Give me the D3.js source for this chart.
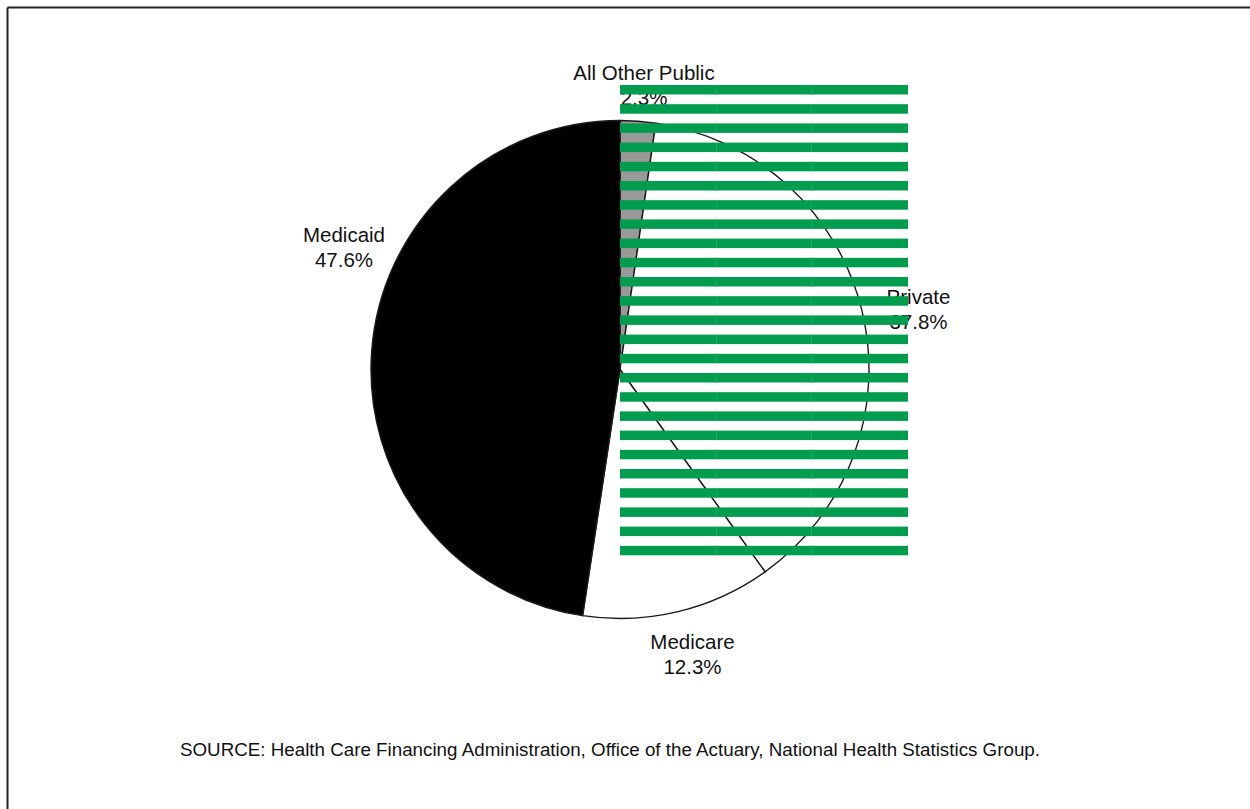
<!DOCTYPE html>
<html>
<head>
<meta charset="utf-8">
<script src="https://cdn.jsdelivr.net/npm/d3@7"></script>
<style>
  html, body { margin: 0; padding: 0; background: #ffffff; }
  svg { display: block; }
  text { font-family: "Liberation Sans", Arial, Helvetica, sans-serif; fill: #111; }
</style>
</head>
<body>
<svg id="chart" width="1250" height="809"></svg>
<script>
// Health spending shares by source of funds (percent)
const categories = ["All Other Public", "Private", "Medicare", "Medicaid"];
const shares = [2.3, 37.8, 12.3, 47.6];
const valueLabels = ["2.3%", "37.8%", "12.3%", "47.6%"];
const sourceNote = "SOURCE: Health Care Financing Administration, Office of the Actuary, National Health Statistics Group.";

// Layout
const W = 1250, H = 809;
const cx = 620, cy = 369.5, radius = 249;
const fills = { "All Other Public": "#999999", "Private": "#ffffff", "Medicare": "#ffffff", "Medicaid": "#000000" };
// label anchor offsets from the pie centre (first-line baseline)
const labelPos = {
  "All Other Public": [24, -289.5],
  "Private": [298.5, -65.5],
  "Medicare": [72.5, 279.5],
  "Medicaid": [-276, -127.5]
};
const lineGap = 24.7;

const svg = d3.select("#chart");

// frame (top and left rules)
svg.append("line").attr("x1", 7.5).attr("y1", 7.5).attr("x2", W).attr("y2", 7.5)
  .attr("stroke", "#222").attr("stroke-width", 2);
svg.append("line").attr("x1", 7.5).attr("y1", 7.5).attr("x2", 7.5).attr("y2", H)
  .attr("stroke", "#222").attr("stroke-width", 2);

const data = categories.map((c, i) => ({ name: c, value: shares[i], label: valueLabels[i] }));
const pie = d3.pie().sort(null).value(d => d.value).startAngle(0).endAngle(2 * Math.PI);
const arc = d3.arc().innerRadius(0).outerRadius(radius);
const arcs = pie(data);

const g = svg.append("g").attr("transform", `translate(${cx},${cy})`);
g.selectAll("path.slice")
  .data(arcs)
  .join("path")
  .attr("class", "slice")
  .attr("d", arc)
  .attr("fill", d => fills[d.data.name])
  .attr("stroke", "#1a1a1a")
  .attr("stroke-width", 1.4)
  .attr("stroke-linejoin", "round");

// category labels
const labels = g.selectAll("text.lbl")
  .data(arcs)
  .join("text")
  .attr("class", "lbl")
  .attr("text-anchor", "middle")
  .attr("font-size", 20.5)
  .attr("transform", d => `translate(${labelPos[d.data.name][0]},${labelPos[d.data.name][1]})`);
labels.append("tspan").attr("x", 0).attr("y", 0).text(d => d.data.name);
labels.append("tspan").attr("x", 0).attr("y", lineGap).text(d => d.data.label);

// striped fill block of the Private series, laid over the plot
const stripeX0 = cx, stripeX1 = 908, stripeY0 = 85, stripeStep = 19.2, stripeH = 9.5, stripeN = 25;
const stripes = svg.append("g").attr("class", "private-pattern");
stripes.selectAll("rect")
  .data(d3.range(stripeN))
  .join("rect")
  .attr("x", stripeX0)
  .attr("y", i => stripeY0 + i * stripeStep)
  .attr("width", stripeX1 - stripeX0)
  .attr("height", stripeH)
  .attr("fill", "#009d4f");
// faint tile seams in the pattern
[716, 811].forEach(sx => {
  stripes.selectAll(null)
    .data(d3.range(stripeN))
    .join("rect")
    .attr("x", sx)
    .attr("y", i => stripeY0 + i * stripeStep)
    .attr("width", 1)
    .attr("height", stripeH)
    .attr("fill", "#1fa560");
});

// source note
svg.append("text")
  .attr("x", 610)
  .attr("y", 756)
  .attr("text-anchor", "middle")
  .attr("font-size", 17.5)
  .attr("textLength", 860)
  .attr("lengthAdjust", "spacingAndGlyphs")
  .attr("fill", "#222")
  .text(sourceNote);
</script>
</body>
</html>
